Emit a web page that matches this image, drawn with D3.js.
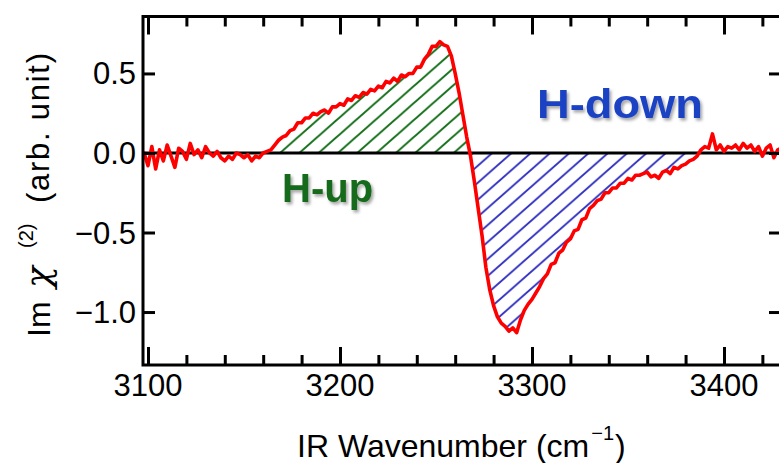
<!DOCTYPE html>
<html>
<head>
<meta charset="utf-8">
<script src="https://cdn.jsdelivr.net/npm/d3@7"></script>
<style>
  html, body { margin: 0; padding: 0; background: #fff; }
  svg { display: block; }
  text { font-family: "Liberation Sans", Arial, sans-serif; }
</style>
</head>
<body>
<svg id="chart" width="779" height="463"></svg>
<script>
// ---- data ----
const waveStart = 3098;   // first sample (cm^-1)
const waveStep = 2;       // sample spacing (cm^-1)
const imChi2 = [
  0.00, -0.08, 0.04, -0.10, 0.02, -0.05, 0.05, -0.02, -0.09, 0.03,
  0.01, -0.04, 0.06, -0.01, 0.02, -0.03, 0.04, 0.00, -0.02, 0.01,
  -0.03, -0.05, -0.02, -0.04, 0.00, -0.01, -0.03, -0.01, -0.05, -0.02,
  -0.03, 0.00, 0.01, 0.02, 0.05, 0.08, 0.10, 0.11, 0.14, 0.15,
  0.19, 0.19, 0.22, 0.22, 0.25, 0.24, 0.26, 0.27, 0.25, 0.29,
  0.29, 0.31, 0.30, 0.34, 0.33, 0.36, 0.35, 0.38, 0.37, 0.40,
  0.39, 0.42, 0.41, 0.45, 0.44, 0.47, 0.45, 0.49, 0.48, 0.50,
  0.50, 0.54, 0.54, 0.59, 0.62, 0.67, 0.67, 0.70, 0.68, 0.67,
  0.61, 0.50, 0.38, 0.24, 0.10, -0.02, -0.18, -0.35, -0.52, -0.72,
  -0.86, -0.96, -1.03, -1.07, -1.09, -1.12, -1.10, -1.13, -1.05, -0.99,
  -0.95, -0.92, -0.88, -0.84, -0.79, -0.76, -0.70, -0.69, -0.63, -0.61,
  -0.56, -0.54, -0.49, -0.48, -0.42, -0.41, -0.35, -0.33, -0.30, -0.29,
  -0.25, -0.25, -0.22, -0.22, -0.19, -0.19, -0.16, -0.17, -0.14, -0.14,
  -0.13, -0.12, -0.15, -0.14, -0.16, -0.12, -0.11, -0.13, -0.09, -0.10,
  -0.08, -0.07, -0.05, -0.04, -0.02, 0.02, 0.04, 0.03, 0.12, 0.02,
  0.05, 0.01, 0.04, 0.03, 0.05, 0.02, 0.06, 0.03, 0.05, 0.01,
  0.04, -0.02, 0.03, 0.05, -0.03, 0.02, 0.03
];
const upRange = [3162, 3268];    // H-up hatched band
const downRange = [3268, 3388];  // H-down hatched band
const xTicksMajor = [3100, 3200, 3300, 3400];
const xTicksMinor = [3120, 3140, 3160, 3180, 3220, 3240, 3260, 3280, 3320, 3340, 3360, 3380, 3420];
const yTicks = [0.5, 0.0, -0.5, -1.0];
const yTickLabels = ["0.5", "0.0", "\u22120.5", "\u22121.0"];
const xDomain = [3097.4, 3429.7];
const yDomain = [-1.333, 0.858];

const points = imChi2.map((v, i) => ({ x: waveStart + i * waveStep, y: v }));

// ---- layout ----
const svg = d3.select("#chart");
const L = 143, R = 781, T = 16.5, B = 365;
const x = d3.scaleLinear().domain(xDomain).range([L, R]);
const y = d3.scaleLinear().domain(yDomain).range([B, T]);

const defs = svg.append("defs");
function hatch(id, color, sw) {
  const w = 19.3, h = 17;
  const p = defs.append("pattern").attr("id", id)
    .attr("patternUnits", "userSpaceOnUse")
    .attr("x", 280).attr("y", y(0) - h)
    .attr("width", w).attr("height", h);
  [-w, 0, w].forEach(o => {
    p.append("line")
      .attr("x1", o - w).attr("y1", 2 * h)
      .attr("x2", o + 2 * w).attr("y2", -h)
      .attr("stroke", color).attr("stroke-width", sw);
  });
}
hatch("hatchGreen", "#16701a", 2);
hatch("hatchBlue", "#3232c0", 1.9);

const shadow = defs.append("filter").attr("id", "shadow")
  .attr("x", "-10%").attr("y", "-10%").attr("width", "130%").attr("height", "140%");
shadow.append("feDropShadow").attr("dx", 2).attr("dy", 2.5)
  .attr("stdDeviation", 1.6).attr("flood-color", "#000").attr("flood-opacity", 0.35);

defs.append("clipPath").attr("id", "plotClip")
  .append("rect").attr("x", L).attr("y", T).attr("width", R - L).attr("height", B - T);

const plot = svg.append("g").attr("clip-path", "url(#plotClip)");

// hatched areas
const area = d3.area().x(d => x(d.x)).y0(y(0)).y1(d => y(d.y));
const upPts = points.filter(d => d.x >= upRange[0] && d.x <= upRange[1]).map(d => ({ x: d.x, y: Math.max(0, d.y) }));
const downPts = points.filter(d => d.x >= downRange[0] && d.x <= downRange[1]).map(d => ({ x: d.x, y: Math.min(0, d.y) }));
plot.append("path").datum(upPts).attr("d", area).attr("fill", "url(#hatchGreen)");
plot.append("path").datum(downPts).attr("d", area).attr("fill", "url(#hatchBlue)");

// zero line
plot.append("line").attr("x1", L).attr("x2", R).attr("y1", y(0)).attr("y2", y(0))
  .attr("stroke", "#000").attr("stroke-width", 3);

// spectrum
const line = d3.line().x(d => x(d.x)).y(d => y(d.y));
plot.append("path").datum(points).attr("d", line)
  .attr("fill", "none").attr("stroke", "#ff0000").attr("stroke-width", 3.6)
  .attr("stroke-linejoin", "round").attr("stroke-linecap", "round");

// frame
svg.append("rect").attr("x", L).attr("y", T).attr("width", R - L).attr("height", B - T)
  .attr("fill", "none").attr("stroke", "#000").attr("stroke-width", 3);

// axes (inward ticks, drawn with d3 axes)
const fmtNone = () => "";
function ticks(axisFn, pos, vals, size) {
  svg.append("g").attr("transform", pos)
    .call(axisFn.tickValues(vals).tickSize(size).tickFormat(fmtNone))
    .call(g => g.select(".domain").remove())
    .call(g => g.selectAll("line").attr("stroke-width", 3));
}
ticks(d3.axisTop(x), `translate(0,${B})`, xTicksMinor, 10);
ticks(d3.axisTop(x), `translate(0,${B})`, xTicksMajor, 18);
ticks(d3.axisBottom(x), `translate(0,${T})`, xTicksMinor, 10);
ticks(d3.axisBottom(x), `translate(0,${T})`, xTicksMajor, 18);
ticks(d3.axisRight(y), `translate(${L},0)`, yTicks, 12);
ticks(d3.axisLeft(y), `translate(${R},0)`, yTicks, 12);

// tick labels
svg.append("g").selectAll("text").data(xTicksMajor).join("text")
  .attr("x", d => x(d)).attr("y", 396).attr("text-anchor", "middle")
  .attr("font-size", 31).attr("fill", "#000").text(d => d);
svg.append("g").selectAll("text").data(yTicks).join("text")
  .attr("x", 136).attr("y", d => y(d) + 11).attr("text-anchor", "end")
  .attr("font-size", 31).attr("fill", "#000").text((d, i) => yTickLabels[i]);

// x label
const xl = svg.append("text").attr("x", 297).attr("y", 457)
  .attr("font-size", 32).attr("fill", "#000");
xl.append("tspan").text("IR Wavenumber (cm");
xl.append("tspan").attr("font-size", 20).attr("dx", 2).attr("dy", -17).text("\u22121");
xl.append("tspan").attr("dx", 1).attr("dy", 17).text(")");

// y label (rotated)
svg.append("text").attr("transform", "translate(50,337) rotate(-90)")
  .attr("font-size", 32).attr("fill", "#000").text("Im");
svg.append("text").attr("transform", "translate(50,288) rotate(-90)")
  .attr("font-size", 36).attr("font-style", "italic").attr("fill", "#000")
  .style("font-family", "'DejaVu Serif', serif").text("\u03c7");
svg.append("text").attr("transform", "translate(33,248) rotate(-90)")
  .attr("font-size", 20).attr("fill", "#000").text("(2)");
svg.append("text").attr("transform", "translate(49,203) rotate(-90)")
  .attr("font-size", 31).attr("fill", "#000").attr("textLength", 150)
  .text("(arb. unit)");

// region labels
svg.append("text").attr("x", 282).attr("y", 202)
  .attr("font-size", 40).attr("font-weight", "bold").attr("fill", "#186a1a")
  .attr("filter", "url(#shadow)").text("H-up");
svg.append("text").attr("x", 537).attr("y", 118)
  .attr("font-size", 41).attr("font-weight", "bold").attr("fill", "#1c42c4")
  .attr("textLength", 166).attr("lengthAdjust", "spacingAndGlyphs")
  .attr("filter", "url(#shadow)").text("H-down");
</script>
</body>
</html>
